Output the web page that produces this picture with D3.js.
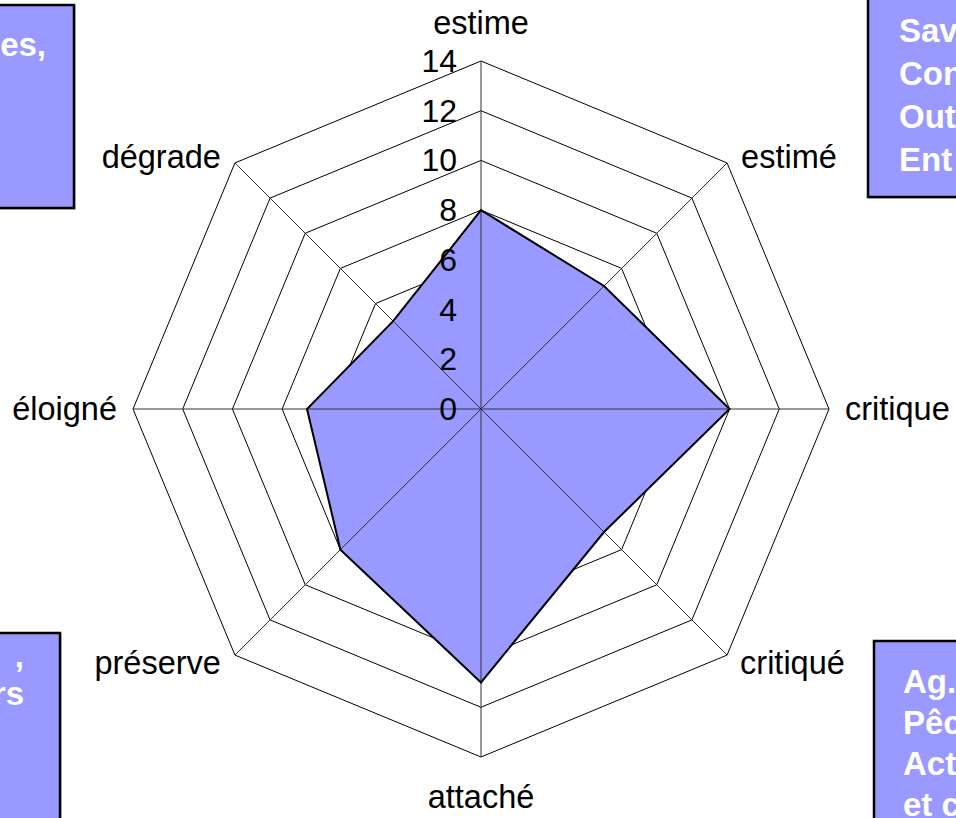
<!DOCTYPE html>
<html>
<head>
<meta charset="utf-8">
<script src="https://cdn.jsdelivr.net/npm/d3@7"></script>
<style>
  html, body { margin: 0; padding: 0; background: #fff; }
  svg { display: block; font-family: "Liberation Sans", Arial, sans-serif; }
</style>
</head>
<body>
<script>
// Radar chart data
const categories = ["estime", "estimé", "critique", "critiqué", "attaché", "préserve", "éloigné", "dégrade"];
const values = [8, 7, 10, 7, 11, 8, 7, 5];
const tickValues = [0, 2, 4, 6, 8, 10, 12, 14];

// Corner legend boxes (text lines)
const boxTopLeft = ["es,"];
const boxTopRight = ["Sav", "Con", "Out", "Ent"];
const boxBottomLeft = [",", "rs"];
const boxBottomRight = ["Ag.", "Pêc", "Act", "et c"];

const W = 956, H = 818;
const cx = 481, cy = 409, R = 348;

const svg = d3.select("body").append("svg").attr("width", W).attr("height", H);

const r = d3.scaleLinear().domain([0, 14]).range([0, R]);
const n = categories.length;
const angle = i => (i * 2 * Math.PI) / n;
const pt = (i, v) => [cx + r(v) * Math.sin(angle(i)), cy - r(v) * Math.cos(angle(i))];

// Grid octagons
const grid = svg.append("g");
tickValues.filter(t => t > 0).forEach(t => {
  grid.append("polygon")
    .attr("points", d3.range(n).map(i => pt(i, t).join(",")).join(" "))
    .attr("fill", "none").attr("stroke", "#000").attr("stroke-width", 1);
});

// Data polygon
svg.append("polygon")
  .attr("points", values.map((v, i) => pt(i, v).join(",")).join(" "))
  .attr("fill", "#9999ff").attr("stroke", "none");

// Spokes
d3.range(n).forEach(i => {
  const [x, y] = pt(i, 14);
  svg.append("line").attr("x1", cx).attr("y1", cy).attr("x2", x).attr("y2", y)
    .attr("stroke", "#333").attr("stroke-width", 1);
});

// Data outline
svg.append("polygon")
  .attr("points", values.map((v, i) => pt(i, v).join(",")).join(" "))
  .attr("fill", "none").attr("stroke", "#000").attr("stroke-width", 2).attr("stroke-linejoin", "miter");

// Value axis tick labels
svg.append("g").selectAll("text").data(tickValues).join("text")
  .attr("x", cx - 24).attr("y", d => cy - r(d))
  .attr("text-anchor", "end").attr("dominant-baseline", "central")
  .attr("font-size", 32).attr("fill", "#000")
  .text(d => d);

// Category labels
const labelPos = [
  { dx: 0, dy: -38, anchor: "middle" },
  { dx: 14, dy: -6, anchor: "start" },
  { dx: 16, dy: 0, anchor: "start" },
  { dx: 13, dy: 8, anchor: "start" },
  { dx: 0, dy: 40, anchor: "middle" },
  { dx: -14, dy: 8, anchor: "end" },
  { dx: -16, dy: 0, anchor: "end" },
  { dx: -14, dy: -6, anchor: "end" }
];
svg.append("g").selectAll("text").data(categories).join("text")
  .attr("x", (d, i) => pt(i, 14)[0] + labelPos[i].dx)
  .attr("y", (d, i) => pt(i, 14)[1] + labelPos[i].dy)
  .attr("text-anchor", (d, i) => labelPos[i].anchor)
  .attr("dominant-baseline", "central")
  .attr("font-size", 32.5).attr("fill", "#000")
  .text(d => d);

// Corner boxes
function cornerBox(x, y, w, h, lines, tx, ty, lh, anchor) {
  const g = svg.append("g");
  g.append("rect").attr("x", x + 1).attr("y", y + 1).attr("width", w).attr("height", h)
    .attr("fill", "none").attr("stroke", "#aaa").attr("stroke-width", 1);
  g.append("rect").attr("x", x).attr("y", y).attr("width", w).attr("height", h)
    .attr("fill", "#9999ff").attr("stroke", "#000").attr("stroke-width", 2.5);
  g.selectAll("text").data(lines).join("text")
    .attr("x", tx).attr("y", (d, i) => ty + i * lh)
    .attr("text-anchor", anchor)
    .attr("dominant-baseline", "central")
    .attr("font-size", 33).attr("font-weight", "bold").attr("fill", "#fff")
    .text(d => d);
}
cornerBox(-20, 5, 94, 203, boxTopLeft, 46, 44, 43, "end");
cornerBox(868, -20, 120, 217, boxTopRight, 899, 30, 43, "start");
cornerBox(-20, 633, 80, 220, boxBottomLeft, 24, 655, 38, "end");
cornerBox(874, 641, 120, 220, boxBottomRight, 903, 681, 41, "start");
</script>
</body>
</html>
